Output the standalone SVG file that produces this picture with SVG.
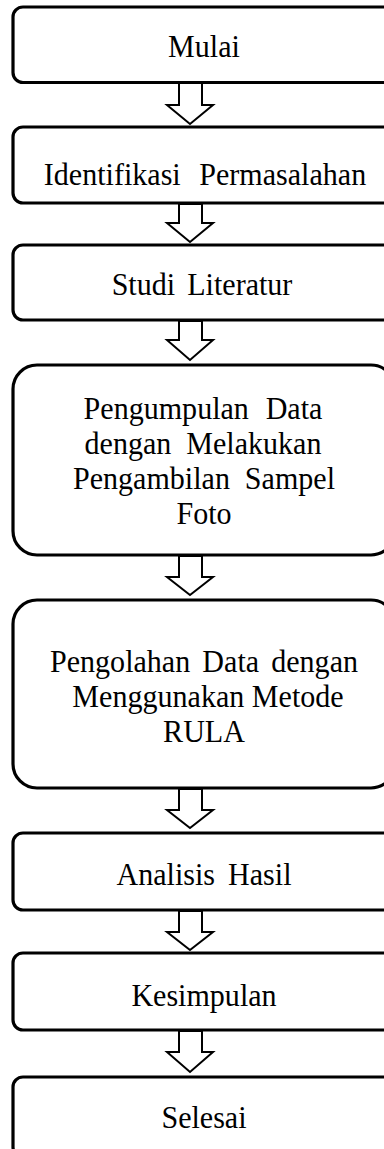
<svg xmlns="http://www.w3.org/2000/svg" width="384" height="1149" viewBox="0 0 384 1149">
<style>
.box{fill:#fff;stroke:#000;stroke-width:3.2}
.t{font-family:"Liberation Serif","Times New Roman",serif;font-size:32.5px;fill:#000;text-anchor:middle}
.arr{fill:#fff;stroke:#000;stroke-width:2;stroke-linejoin:miter}
</style>
<rect width="384" height="1149" fill="#fff"/>
<g id="connectors">
<path class="arr" d="M179,83 V105 H167 L190,124 L213,105 H202 V83 Z"/>
<path class="arr" d="M179,204 V223 H167 L190,242 L213,223 H202 V204 Z"/>
<path class="arr" d="M179,321 V340 H167 L190,360 L213,340 H202 V321 Z"/>
<path class="arr" d="M179,556 V577 H167 L190,595 L213,577 H202 V556 Z"/>
<path class="arr" d="M179,789 V810 H167 L190,828 L213,810 H202 V789 Z"/>
<path class="arr" d="M179,911 V932 H167 L190,950 L213,932 H202 V911 Z"/>
<path class="arr" d="M179,1031 V1052 H167 L190,1072 L213,1052 H202 V1031 Z"/>
</g>
<g id="n1"><rect class="box" x="13" y="7" width="382" height="75.5" rx="10"/><text class="t" transform="translate(204,57) scale(0.925,1)">Mulai</text></g>
<g id="n2"><rect class="box" x="13" y="127" width="382" height="76" rx="10"/><text class="t" transform="translate(205,185) scale(0.925,1)" word-spacing="12">Identifikasi Permasalahan</text></g>
<g id="n3"><rect class="box" x="13" y="245" width="382" height="75" rx="10"/><text class="t" transform="translate(202,295) scale(0.925,1)" word-spacing="5">Studi Literatur</text></g>
<g id="n4"><rect class="box" x="13" y="365" width="382" height="190" rx="24"/><text class="t" transform="translate(203,419) scale(0.925,1)" word-spacing="10">Pengumpulan Data</text><text class="t" transform="translate(203,454) scale(0.925,1)" word-spacing="8">dengan Melakukan</text><text class="t" transform="translate(204,489) scale(0.925,1)" word-spacing="8">Pengambilan Sampel</text><text class="t" transform="translate(204,524) scale(0.925,1)">Foto</text></g>
<g id="n5"><rect class="box" x="13" y="600" width="382" height="188" rx="24"/><text class="t" transform="translate(204,672) scale(0.925,1)" word-spacing="5">Pengolahan Data dengan</text><text class="t" transform="translate(208,707) scale(0.925,1)">Menggunakan Metode</text><text class="t" transform="translate(204,742) scale(0.925,1)">RULA</text></g>
<g id="n6"><rect class="box" x="13" y="833" width="382" height="77" rx="10"/><text class="t" transform="translate(204,885) scale(0.925,1)" word-spacing="6">Analisis Hasil</text></g>
<g id="n7"><rect class="box" x="13" y="953" width="382" height="77" rx="10"/><text class="t" transform="translate(204,1006) scale(0.925,1)">Kesimpulan</text></g>
<g id="n8"><rect class="box" x="13" y="1077" width="382" height="80" rx="10"/><text class="t" transform="translate(204,1128) scale(0.925,1)">Selesai</text></g>
</svg>
